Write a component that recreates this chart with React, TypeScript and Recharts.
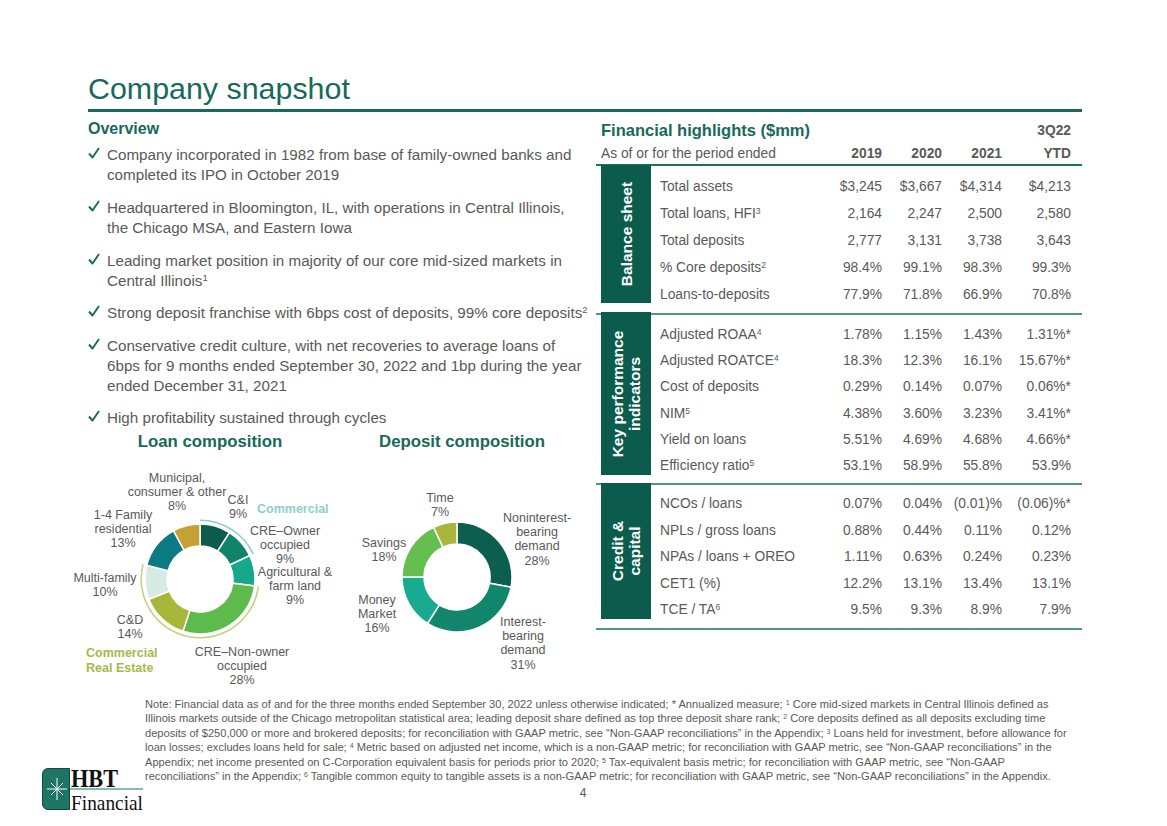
import React from 'react';
import { PieChart, Pie, Cell } from 'recharts';

const GREEN = '#17695a';
const GRAY = '#595959';
const BOX = '#0b5c4d';
const FONT = '"Liberation Sans", Arial, sans-serif';

// ---- data ----
const OVERVIEW = [
  ['Company incorporated in 1982 from base of family-owned banks and', 'completed its IPO in October 2019'],
  ['Headquartered in Bloomington, IL, with operations in Central Illinois,', 'the Chicago MSA, and Eastern Iowa'],
  ['Leading market position in majority of our core mid-sized markets in', 'Central Illinois^1'],
  ['Strong deposit franchise with 6bps cost of deposits, 99% core deposits^2'],
  ['Conservative credit culture, with net recoveries to average loans of', '6bps for 9 months ended September 30, 2022 and 1bp during the year', 'ended December 31, 2021'],
  ['High profitability sustained through cycles'],
];

const LOAN_NAMES = ['C&I', 'CRE–Owner\noccupied', 'Agricultural &\nfarm land', 'CRE–Non-owner\noccupied', 'C&D', 'Multi-family', '1-4 Family\nresidential', 'Municipal,\nconsumer & other'];
const LOAN_VALUES = [9, 9, 9, 28, 14, 10, 13, 8];
const LOAN_SEGMENTS = ['Commercial', 'Commercial', '', 'Commercial Real Estate', 'Commercial Real Estate', 'Commercial Real Estate', '', ''];
const LOAN_COLORS = ['#0c5b4c', '#13826a', '#17a88c', '#5dbb4e', '#a8b63a', '#d5ebe6', '#0b7a82', '#c5a033'];

const DEPOSIT_NAMES = ['Noninterest-\nbearing\ndemand', 'Interest-\nbearing\ndemand', 'Money\nMarket', 'Savings', 'Time'];
const DEPOSIT_VALUES = [28, 31, 16, 18, 7];
const DEPOSIT_COLORS = ['#0c5e4f', '#12866c', '#17ab8f', '#64bf50', '#a9b53c'];

const SEGMENT_COLORS: Record<string, string> = { 'Commercial': '#8fd0c5', 'Commercial Real Estate': '#c3d282', '': 'none' };

const YEARS = ['2019', '2020', '2021', 'YTD'];

const BALANCE_LABELS = ['Total assets', 'Total loans, HFI^3', 'Total deposits', '% Core deposits^2', 'Loans-to-deposits'];
const BALANCE_VALUES = [
  ['$3,245', '$3,667', '$4,314', '$4,213'],
  ['2,164', '2,247', '2,500', '2,580'],
  ['2,777', '3,131', '3,738', '3,643'],
  ['98.4%', '99.1%', '98.3%', '99.3%'],
  ['77.9%', '71.8%', '66.9%', '70.8%'],
];

const KPI_LABELS = ['Adjusted ROAA^4', 'Adjusted ROATCE^4', 'Cost of deposits', 'NIM^5', 'Yield on loans', 'Efficiency ratio^5'];
const KPI_VALUES = [
  ['1.78%', '1.15%', '1.43%', '1.31%*'],
  ['18.3%', '12.3%', '16.1%', '15.67%*'],
  ['0.29%', '0.14%', '0.07%', '0.06%*'],
  ['4.38%', '3.60%', '3.23%', '3.41%*'],
  ['5.51%', '4.69%', '4.68%', '4.66%*'],
  ['53.1%', '58.9%', '55.8%', '53.9%'],
];

const CREDIT_LABELS = ['NCOs / loans', 'NPLs / gross loans', 'NPAs / loans + OREO', 'CET1 (%)', 'TCE / TA^6'];
const CREDIT_VALUES = [
  ['0.07%', '0.04%', '(0.01)%', '(0.06)%*'],
  ['0.88%', '0.44%', '0.11%', '0.12%'],
  ['1.11%', '0.63%', '0.24%', '0.23%'],
  ['12.2%', '13.1%', '13.4%', '13.1%'],
  ['9.5%', '9.3%', '8.9%', '7.9%'],
];

const NOTE_LINES = [
  'Note: Financial data as of and for the three months ended September 30, 2022 unless otherwise indicated; * Annualized measure; ^1 Core mid-sized markets in Central Illinois defined as',
  'Illinois markets outside of the Chicago metropolitan statistical area; leading deposit share defined as top three deposit share rank; ^2 Core deposits defined as all deposits excluding time',
  'deposits of $250,000 or more and brokered deposits; for reconciliation with GAAP metric, see “Non-GAAP reconciliations” in the Appendix; ^3 Loans held for investment, before allowance for',
  'loan losses; excludes loans held for sale; ^4 Metric based on adjusted net income, which is a non-GAAP metric; for reconciliation with GAAP metric, see “Non-GAAP reconciliations” in the',
  'Appendix; net income presented on C-Corporation equivalent basis for periods prior to 2020; ^5 Tax-equivalent basis metric; for reconciliation with GAAP metric, see “Non-GAAP',
  'reconciliations” in the Appendix; ^6 Tangible common equity to tangible assets is a non-GAAP metric; for reconciliation with GAAP metric, see “Non-GAAP reconciliations” in the Appendix.',
];

// ---- layout ----
const BULLET_Y = [155, 208, 261, 313, 346, 418];
const LOAN_CENTER = { x: 200, y: 579 };
const DEPOSIT_CENTER = { x: 457, y: 577 };
const LOAN_LABEL_POS = [[238, 500], [285, 531], [295, 572], [242, 652], [130, 620], [105, 578], [123, 515], [177, 478]];
const DEPOSIT_LABEL_POS = [[537, 518], [523, 622], [377, 600], [384, 543], [440, 498]];
const COL_RIGHT = [882, 942, 1002, 1071];
const TF = 13.8; // table font size

const rich = (s: string) =>
  s.split(/\^(\d)/).map((part, i) =>
    i % 2 === 1 ? (
      <sup key={i} style={{ fontSize: '0.62em', lineHeight: 0, verticalAlign: '0.5em' }}>{part}</sup>
    ) : (
      <React.Fragment key={i}>{part}</React.Fragment>
    )
  );

type TProps = { x: number; y: number; lh?: number; align?: 'left' | 'center' | 'right'; style?: React.CSSProperties; children: React.ReactNode };
const T = ({ x, y, lh = 16, align = 'left', style, children }: TProps) => {
  const pos: React.CSSProperties = { position: 'absolute', top: y - lh / 2, lineHeight: `${lh}px`, whiteSpace: 'pre', textAlign: align };
  if (align === 'left') pos.left = x;
  if (align === 'right') pos.right = 1167 - x;
  if (align === 'center') { pos.left = x; pos.transform = 'translateX(-50%)'; }
  return <div style={{ ...pos, ...style }}>{children}</div>;
};

const segmentArcs = (values: number[], segments: string[]) => {
  const out: { name: string; value: number }[] = [];
  values.forEach((v, i) => {
    const last = out[out.length - 1];
    if (last && last.name === segments[i]) last.value += v;
    else out.push({ name: segments[i], value: v });
  });
  return out;
};

const Donut = ({ center, names, values, colors, arcs }: { center: { x: number; y: number }; names: string[]; values: number[]; colors: string[]; arcs?: { name: string; value: number }[] }) => {
  const data = names.map((n, i) => ({ name: n, value: values[i] }));
  return (
    <div style={{ position: 'absolute', left: center.x - 90, top: center.y - 90 }}>
      <PieChart width={180} height={180} margin={{ top: 0, right: 0, bottom: 0, left: 0 }}>
        <Pie data={data} dataKey="value" cx={90} cy={90} innerRadius={33} outerRadius={55} startAngle={90} endAngle={-270} stroke="#ffffff" strokeWidth={1.5} isAnimationActive={false}>
          {data.map((d, i) => <Cell key={i} fill={colors[i]} />)}
        </Pie>
        {arcs && (
          <Pie data={arcs} dataKey="value" cx={90} cy={90} innerRadius={58} outerRadius={59.6} startAngle={90} endAngle={-270} stroke="none" isAnimationActive={false}>
            {arcs.map((a, i) => <Cell key={i} fill={SEGMENT_COLORS[a.name]} />)}
          </Pie>
        )}
      </PieChart>
    </div>
  );
};

const PieLabels = ({ names, values, pos }: { names: string[]; values: number[]; pos: number[][] }) => (
  <>
    {names.map((n, i) => (
      <T key={i} x={pos[i][0]} y={pos[i][1]} lh={14.3} align="center" style={{ fontSize: 12.5, color: GRAY }}>
        {`${n}\n${values[i]}%`}
      </T>
    ))}
  </>
);

const Section = ({ top, bottom, title, labels, values, y0, step, lineY }: { top: number; bottom: number; title: string; labels: string[]; values: string[][]; y0: number; step: number; lineY?: number }) => (
  <>
    {lineY !== undefined && <div style={{ position: 'absolute', left: 596, top: lineY - 1, width: 486, height: 2, background: '#4f9488' }} />}
    <div style={{ position: 'absolute', left: 601, top, width: 50, height: bottom - top, background: BOX }} />
    <div style={{ position: 'absolute', left: 626, top: (top + bottom) / 2, transform: 'translate(-50%, -50%) rotate(-90deg)', color: '#fff', fontWeight: 700, fontSize: 15.5, lineHeight: '17px', whiteSpace: 'pre', textAlign: 'center' }}>
      {title}
    </div>
    {labels.map((l, r) => (
      <React.Fragment key={r}>
        <T x={660} y={y0 + r * step} style={{ fontSize: TF, color: GRAY }}>{rich(l)}</T>
        {values[r].map((v, c) => (
          <T key={c} x={COL_RIGHT[c]} y={y0 + r * step} align="right" style={{ fontSize: TF, color: GRAY }}>{v}</T>
        ))}
      </React.Fragment>
    ))}
  </>
);

const Check = ({ y }: { y: number }) => (
  <svg style={{ position: 'absolute', left: 88, top: y - 7 }} width={12} height={12}>
    <path d="M1,6.5 L4.5,10.5 L11,1" fill="none" stroke={GREEN} strokeWidth={1.9} strokeLinejoin="round" />
  </svg>
);

export default function App() {
  const loanArcs = segmentArcs(LOAN_VALUES, LOAN_SEGMENTS);
  return (
    <div style={{ position: 'absolute', left: 0, top: 0, width: 1167, height: 826, background: '#fff', fontFamily: FONT, overflow: 'hidden' }}>
      {/* header */}
      <T x={88} y={88} lh={34} style={{ fontSize: 30.4, color: GREEN }}>Company snapshot</T>
      <div style={{ position: 'absolute', left: 88, top: 109, width: 994, height: 3, background: '#176b5a' }} />

      {/* overview */}
      <T x={88} y={129} style={{ fontSize: 16, fontWeight: 700, color: GREEN }}>Overview</T>
      {OVERVIEW.map((lines, i) => (
        <React.Fragment key={i}>
          <Check y={BULLET_Y[i] - 1} />
          {lines.map((ln, j) => (
            <T key={j} x={107} y={BULLET_Y[i] + j * 20} lh={20} style={{ fontSize: 15.2, color: GRAY }}>{rich(ln)}</T>
          ))}
        </React.Fragment>
      ))}

      {/* donuts */}
      <T x={210} y={442} lh={18} align="center" style={{ fontSize: 16.8, fontWeight: 700, color: GREEN }}>Loan composition</T>
      <T x={462} y={442} lh={18} align="center" style={{ fontSize: 16.8, fontWeight: 700, color: GREEN }}>Deposit composition</T>
      <Donut center={LOAN_CENTER} names={LOAN_NAMES} values={LOAN_VALUES} colors={LOAN_COLORS} arcs={loanArcs} />
      <Donut center={DEPOSIT_CENTER} names={DEPOSIT_NAMES} values={DEPOSIT_VALUES} colors={DEPOSIT_COLORS} />
      <PieLabels names={LOAN_NAMES} values={LOAN_VALUES} pos={LOAN_LABEL_POS} />
      <PieLabels names={DEPOSIT_NAMES} values={DEPOSIT_VALUES} pos={DEPOSIT_LABEL_POS} />
      <T x={257} y={509} lh={14.5} style={{ fontSize: 12.5, fontWeight: 700, color: SEGMENT_COLORS['Commercial'] }}>Commercial</T>
      <T x={86} y={653} lh={15} style={{ fontSize: 12.5, fontWeight: 700, color: '#a9b84a' }}>{'Commercial\nReal Estate'}</T>

      {/* table */}
      <T x={601} y={130} lh={18} style={{ fontSize: 16.5, fontWeight: 700, color: GREEN }}>Financial highlights ($mm)</T>
      <T x={1071} y={131} align="right" style={{ fontSize: TF, fontWeight: 700, color: GRAY }}>3Q22</T>
      <T x={601} y={154} style={{ fontSize: TF, color: GRAY }}>As of or for the period ended</T>
      {YEARS.map((yr, c) => (
        <T key={yr} x={COL_RIGHT[c]} y={154} align="right" style={{ fontSize: TF, fontWeight: 700, color: GRAY }}>{yr}</T>
      ))}
      <div style={{ position: 'absolute', left: 596, top: 164, width: 486, height: 2, background: '#1e7063' }} />
      <Section top={165} bottom={303} title="Balance sheet" labels={BALANCE_LABELS} values={BALANCE_VALUES} y0={187} step={27} />
      <Section top={312} bottom={475} title={'Key performance\nindicators'} labels={KPI_LABELS} values={KPI_VALUES} y0={335} step={26.2} lineY={314} />
      <Section top={483} bottom={619} title={'Credit &\ncapital'} labels={CREDIT_LABELS} values={CREDIT_VALUES} y0={504} step={26.6} lineY={484} />
      <div style={{ position: 'absolute', left: 596, top: 628, width: 486, height: 2, background: '#4f9488' }} />

      {/* footnotes */}
      {NOTE_LINES.map((ln, i) => (
        <T key={i} x={145} y={704 + i * 14.4} lh={14} style={{ fontSize: 11.1, color: GRAY }}>{rich(ln)}</T>
      ))}
      <T x={583} y={793} align="center" style={{ fontSize: 12, color: GRAY }}>4</T>

      {/* logo */}
      <div style={{ position: 'absolute', left: 42, top: 768, width: 28, height: 42, background: '#1f7563', borderRadius: '6px 0 0 6px', border: '1px solid #0d4a3f', boxSizing: 'border-box' }} />
      <svg style={{ position: 'absolute', left: 0, top: 0 }} width={1167} height={826}>
        <g stroke="#ffffff" strokeWidth={1}>
          <line x1={57} y1={778} x2={57} y2={800} />
          <line x1={47} y1={789} x2={67} y2={789} />
          <line x1={51} y1={783} x2={63} y2={795} />
          <line x1={63} y1={783} x2={51} y2={795} />
        </g>
        <line x1={70} y1={789} x2={143} y2={789} stroke="#1b6e5e" strokeWidth={1} />
        <text x={71} y={787} fontFamily='"Liberation Serif", serif' fontWeight={700} fontSize={25} fill="#111" textLength={47} lengthAdjust="spacingAndGlyphs">HBT</text>
        <text x={71} y={810} fontFamily='"Liberation Serif", serif' fontSize={22} fill="#111" textLength={72} lengthAdjust="spacingAndGlyphs">Financial</text>
      </svg>
    </div>
  );
}
